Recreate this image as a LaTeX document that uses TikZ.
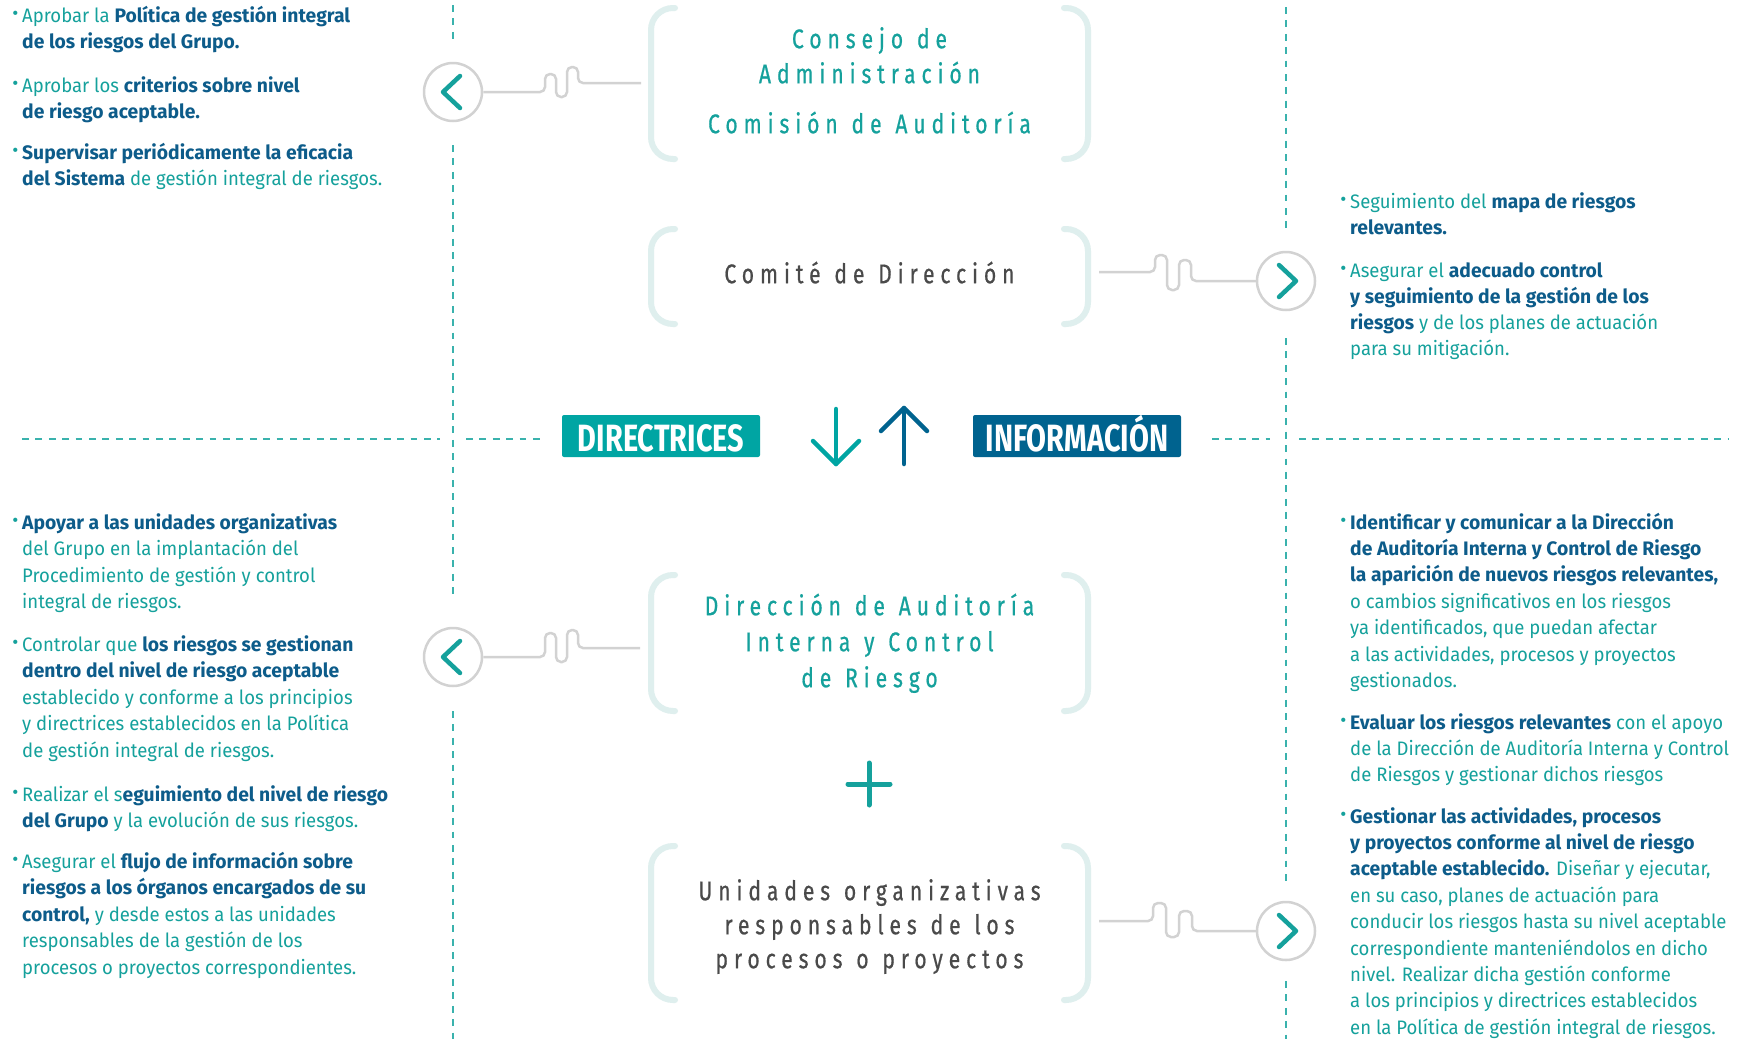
\documentclass[tikz,border=0pt]{standalone}
\usepackage{fontspec}
\setmainfont{Fira Sans}[FakeStretch=0.95,BoldFeatures={FakeStretch=0.99}]
\newfontfamily\titlefont{Fira Sans}[FakeStretch=0.78,LetterSpace=22,WordSpace=1.2,FakeBold=0.6]
\newfontfamily\tagfont{Fira Sans}[FakeStretch=0.76]
\definecolor{tealtxt}{HTML}{15A19C}
\definecolor{bluetxt}{HTML}{0D5C8A}
\definecolor{dirbox}{HTML}{00A5A3}
\definecolor{infobox}{HTML}{00638F}
\definecolor{brkcol}{HTML}{DFEFEE}
\definecolor{ggray}{HTML}{D2D2D2}
\definecolor{dashcol}{HTML}{3AB2AD}
\definecolor{titlegray}{HTML}{4A4A4A}
\newcommand\hb[1]{{\bfseries\color{bluetxt}#1}}
\newcommand\bul{\makebox[0pt][r]{\raisebox{2pt}{\scalebox{1.2}{\bfseries·}}\hspace{4pt}}}
\tikzset{
  para/.style={anchor=north west, inner sep=0pt, align=left, text=tealtxt,
    font=\fontsize{19.5}{#1}\selectfont},
  para/.default=26,
  ttl/.style={anchor=north, inner sep=0pt, align=center,
    font=\titlefont\fontsize{27}{#1}\selectfont},
  ttl/.default=35,
  brk/.style={draw=brkcol, line width=6pt, rounded corners=22pt, line cap=round},
  squig/.style={draw=ggray, line width=2.5pt, rounded corners=5pt},
  circ/.style={circle, draw=ggray, line width=2.5pt, fill=white, minimum size=58pt, inner sep=0pt},
  chev/.style={draw=tealtxt, line width=4.5pt, line cap=round, line join=round},
  vdash/.style={draw=dashcol, line width=2pt, dash pattern=on 6.7pt off 6.7pt},
  tagbox/.style={inner sep=0pt, minimum height=42pt, text height=30pt, text depth=0pt,
    rounded corners=2pt, text=white,
    font=\tagfont\bfseries\fontsize{38}{38}\selectfont},
  arr/.style={line width=4.5pt, line cap=round, line join=round},
}
\begin{document}
\begin{tikzpicture}[x=1pt,y=-1pt]
\fill[white] (0,0) rectangle (1751,1039);
\useasboundingbox (0,0) rectangle (1751,1039);

% dashed guide lines
\draw[vdash] (453,5) -- (453,42);
\draw[vdash] (453,145) -- (453,598);
\draw[vdash] (453,711) -- (453,1039);
\draw[vdash] (1286,7) -- (1286,229);
\draw[vdash] (1286,338) -- (1286,881);
\draw[vdash] (1286,981) -- (1286,1039);
\draw[vdash] (22,439) -- (440,439);
\draw[vdash] (466,439) -- (540,439);
\draw[vdash] (1212,439) -- (1270,439);
\draw[vdash] (1299,439) -- (1729,439);

% brackets
\foreach \t/\b in {8/159, 229/324, 575/711, 846/1000}{
  \draw[brk] (675,\t) -- (651,\t) -- (651,\b) -- (675,\b);
  \draw[brk] (1064,\t) -- (1088,\t) -- (1088,\b) -- (1064,\b);
}

% titles
\node[ttl, text=tealtxt] (consejo) at (869.5,23.5) {\strut Consejo de\\Administración};
\node[ttl, text=tealtxt] (comision) at (869.5,108.5) {\strut Comisión de Auditoría};
\node[ttl, text=titlegray] (comite) at (869.5,258.5) {\strut Comité de Dirección};
\node[ttl=36, text=tealtxt] (direccion) at (869.5,589.8) {\strut Dirección de Auditoría\\Interna y Control\\de Riesgo};
\node[ttl=34, text=titlegray] (unidades) at (869.5,876.2) {\strut Unidades organizativas\\responsables de los\\procesos o proyectos};

% plus sign
\draw[arr, draw=tealtxt, line width=5pt] (848,784) -- (890,784) (869,763) -- (869,805);

% tags and arrows
\node[tagbox, fill=dirbox, minimum width=198pt] (dir) at (661,436) {DIRECTRICES};
\node[tagbox, fill=infobox, minimum width=208pt] (info) at (1077,436) {INFORMACIÓN};
\draw[arr, draw=dirbox] (836,409) -- (836,464);
\draw[arr, draw=dirbox] (813,441) -- (836,464) -- (859,441);
\draw[arr, draw=infobox] (904,464) -- (904,408);
\draw[arr, draw=infobox] (881,431) -- (904,408) -- (927,431);

% circles
\node[circ] (cTL) at (453,92) {};
\node[circ] (cBL) at (453,657) {};
\node[circ] (cTR) at (1286,281) {};
\node[circ] (cBR) at (1286,931) {};
\draw[chev] ([shift={(7,-16)}]cTL.center) -- ([shift={(-10,0)}]cTL.center) -- ([shift={(7,16)}]cTL.center);
\draw[chev] ([shift={(7,-16)}]cBL.center) -- ([shift={(-10,0)}]cBL.center) -- ([shift={(7,16)}]cBL.center);
\draw[chev] ([shift={(-7,-16)}]cTR.center) -- ([shift={(10,0)}]cTR.center) -- ([shift={(-7,16)}]cTR.center);
\draw[chev] ([shift={(-7,-16)}]cBR.center) -- ([shift={(10,0)}]cBR.center) -- ([shift={(-7,16)}]cBR.center);

% connector ends at brackets
\coordinate (kTL) at (641,83);
\coordinate (kBL) at (640,648);
\coordinate (kTR) at (1099,272);
\coordinate (kBR) at (1099,921);

% squiggles
\draw[squig] (cTL.east) -- (545,92) -- (545,74) -- (556,74) -- (556,97) -- (567,97) -- (567,67) -- (578,67) -- (578,83) -- (kTL);
\draw[squig] (cBL.east) -- (545,657) -- (545,633) -- (556,633) -- (556,662) -- (567,662) -- (567,630) -- (578,630) -- (578,648) -- (kBL);
\draw[squig] (kTR) -- (1155,272) -- (1155,255) -- (1167,255) -- (1167,290) -- (1179,290) -- (1179,260) -- (1191,260) -- (1191,281) -- (cTR.west);
\draw[squig] (kBR) -- (1153,921) -- (1153,903) -- (1166,903) -- (1166,937) -- (1179,937) -- (1179,911) -- (1192,911) -- (1192,931) -- (cBR.west);

% left top texts
\node[para] (lt1) at (22,3.8) {\strut\bul Aprobar la \hb{Política de gestión integral}\\\hb{de los riesgos del Grupo.}};
\node[para] (lt2) at (22,73.8) {\strut\bul Aprobar los \hb{criterios sobre nivel}\\\hb{de riesgo aceptable.}};
\node[para] (lt3) at (22,140.8) {\strut\bul\hb{Supervisar periódicamente la eficacia}\\\hb{del Sistema} de gestión integral de riesgos.};

% right top texts
\node[para] (rt1) at (1350,189.8) {\strut\bul Seguimiento del \hb{mapa de riesgos}\\\hb{relevantes.}};
\node[para] (rt2) at (1350,258.8) {\strut\bul Asegurar el \hb{adecuado control}\\\hb{y seguimiento de la gestión de los}\\\hb{riesgos} y de los planes de actuación\\para su mitigación.};

% left bottom texts
\node[para=26.5] (lb1) at (22,510.5) {\strut\bul\hb{Apoyar a las unidades organizativas}\\del Grupo en la implantación del\\Procedimiento de gestión y control\\integral de riesgos.};
\node[para=26.5] (lb2) at (22,632.5) {\strut\bul Controlar que \hb{los riesgos se gestionan}\\\hb{dentro del nivel de riesgo aceptable}\\establecido y conforme a los principios\\y directrices establecidos en la Política\\de gestión integral de riesgos.};
\node[para=26.5] (lb3) at (22,782.5) {\strut\bul Realizar el s\hb{eguimiento del nivel de riesgo}\\\hb{del Grupo} y la evolución de sus riesgos.};
\node[para=26.5] (lb4) at (22,849.5) {\strut\bul Asegurar el \hb{flujo de información sobre}\\\hb{riesgos a los órganos encargados de su}\\\hb{control,} y desde estos a las unidades\\responsables de la gestión de los\\procesos o proyectos correspondientes.};

% right bottom texts
\node[para=26.4] (rb1) at (1350,510.5) {\strut\bul\hb{Identificar y comunicar a la Dirección}\\\hb{de Auditoría Interna y Control de Riesgo}\\\hb{la aparición de nuevos riesgos relevantes,}\\o cambios significativos en los riesgos\\ya identificados, que puedan afectar\\a las actividades, procesos y proyectos\\gestionados.};
\node[para=26.4] (rb2) at (1350,710.5) {\strut\bul\hb{Evaluar los riesgos relevantes} con el apoyo\\de la Dirección de Auditoría Interna y Control\\de Riesgos y gestionar dichos riesgos};
\node[para=26.4] (rb3) at (1350,804.5) {\strut\bul\hb{Gestionar las actividades, procesos}\\\hb{y proyectos conforme al nivel de riesgo}\\\hb{aceptable establecido.} Diseñar y ejecutar,\\en su caso, planes de actuación para\\conducir los riesgos hasta su nivel aceptable\\correspondiente manteniéndolos en dicho\\nivel. Realizar dicha gestión conforme\\a los principios y directrices establecidos\\en la Política de gestión integral de riesgos.};
\end{tikzpicture}
\end{document}
